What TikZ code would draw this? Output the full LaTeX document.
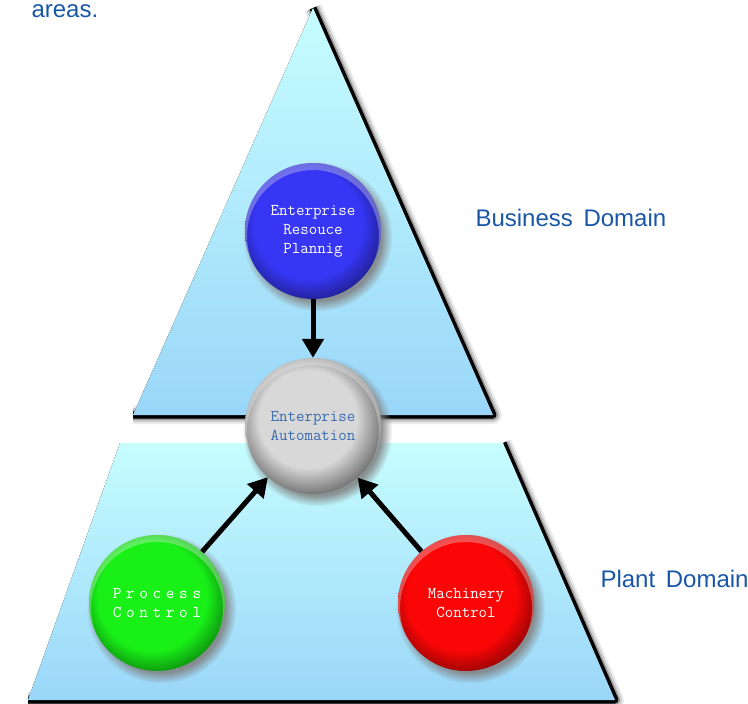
\documentclass[tikz,border=0pt]{standalone}
\usepackage{fontspec}
\setmainfont{Liberation Sans}
\newfontfamily\widemono[LetterSpace=28]{lmmono10-regular.otf}
\usetikzlibrary{arrows.meta,shadows}

\definecolor{labelblue}{HTML}{1A56A8}
\definecolor{eatext}{HTML}{3A6BB0}
\definecolor{topcyan}{HTML}{C6FDFF}
\definecolor{lowblue}{HTML}{9AD6F8}
\definecolor{erpblue}{HTML}{3636F4}
\definecolor{eagray}{HTML}{D8D8D8}
\definecolor{pcgreen}{HTML}{18F018}
\definecolor{mcred}{HTML}{FA0606}

% flat balls with a darker rim towards the lower right
\pgfdeclareradialshading{blueball}{\pgfpoint{-3bp}{4bp}}{color(0bp)=(erpblue);color(20bp)=(erpblue);color(28bp)=(erpblue!60!black);color(50bp)=(erpblue!60!black)}
\pgfdeclareradialshading{grayball}{\pgfpoint{-3bp}{4bp}}{color(0bp)=(eagray);color(18bp)=(eagray);color(28bp)=(eagray!50!black);color(50bp)=(eagray!50!black)}
\pgfdeclareradialshading{greenball}{\pgfpoint{-3bp}{4bp}}{color(0bp)=(pcgreen);color(20bp)=(pcgreen);color(28bp)=(pcgreen!60!black);color(50bp)=(pcgreen!60!black)}
\pgfdeclareradialshading{redball}{\pgfpoint{-3bp}{4bp}}{color(0bp)=(mcred);color(20bp)=(mcred);color(28bp)=(mcred!60!black);color(50bp)=(mcred!60!black)}

\tikzset{
  slab/.style={top color=topcyan,bottom color=lowblue},
  rim/.style={black,line join=round,shift={(3,3)}},
  ball/.style={circle,minimum size=136pt,inner sep=0pt,align=center,
    font=\ttfamily\fontsize{16.5}{19}\selectfont,
    circular drop shadow={shadow xshift=4pt,shadow yshift=-5pt,opacity=.85},
    path picture={\fill[white,opacity=.3,even odd rule]
      (path picture bounding box.center) circle (70pt)
      ([yshift=-5pt]path picture bounding box.center) circle (66pt);}},
  wide/.style={font=\widemono\fontsize{16.5}{19}\selectfont},
  domainlabel/.style={anchor=base west,text=labelblue,font=\fontsize{24}{28}\selectfont},
  link/.style={line width=5pt,-{Triangle[length=19pt,width=21pt]}}
}

\begin{document}
\begin{tikzpicture}[x=1pt,y=-1pt]
\useasboundingbox (0,0) rectangle (748,704);

\coordinate (apex) at (313,8);
\coordinate (tbl) at (133,415);
\coordinate (tbr) at (493,415);
\coordinate (ptl) at (120,443);
\coordinate (ptr) at (503,443);
\coordinate (pbr) at (615,700);
\coordinate (pbl) at (28,700);

% soft dark edges first, slabs on top
\foreach \w/\o in {18/.08,14/.12,10/.25,7/1}{
  \draw[rim,line width=\w pt,opacity=\o] (apex)--(tbr)--(tbl);
  \draw[rim,line width=\w pt,opacity=\o] (ptr)--(pbr)--(pbl);
}
\fill[slab] (apex)--(tbr)--(tbl)--cycle;
\fill[slab] (ptl)--(ptr)--(pbr)--(pbl)--cycle;

\path
(28,17)   node[domainlabel] (areas) {areas.}
(472,226) node[domainlabel] (business) {Business\, Domain}
(597,587) node[domainlabel] (plant) {Plant\, Domain};

\path
(313,231) node[ball,shading=blueball,text=white] (erp) {Enterprise\\Resouce\\Plannig}
(313,426) node[ball,shading=grayball,text=eatext] (ea) {Enterprise\\Automation}
(157,603) node[ball,wide,shading=greenball,text=white] (pc) {Process\\Control}
(466,603) node[ball,shading=redball,text=white] (mc) {Machinery\\Control};

\draw[link] (erp)--(ea);
\draw[link] (pc)--(ea);
\draw[link] (mc)--(ea);
\end{tikzpicture}
\end{document}
